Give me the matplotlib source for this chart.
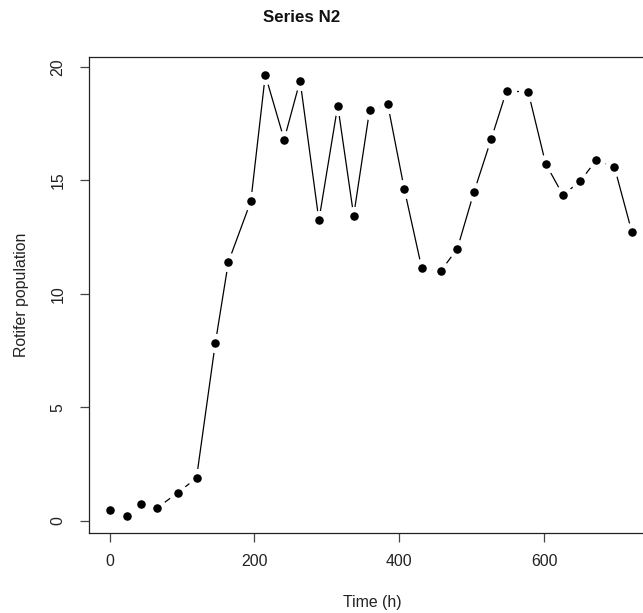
import matplotlib
matplotlib.use("Agg")
import matplotlib.pyplot as plt

time_h = [0, 24, 43, 66, 94, 120, 146, 164, 195, 215, 241, 263, 289, 315, 337,
          359, 384, 407, 431, 457, 480, 503, 527, 548, 578, 602, 626, 650, 672,
          697, 721]
population = [0.48, 0.22, 0.73, 0.57, 1.23, 1.88, 7.83, 11.40, 14.08, 19.65,
              16.80, 19.40, 13.25, 18.30, 13.45, 18.10, 18.36, 14.60, 11.13,
              11.00, 11.98, 14.48, 16.84, 18.94, 18.90, 15.74, 14.35, 14.98,
              15.89, 15.59, 12.74]
xticks = [0, 200, 400, 600]
yticks = [0, 5, 10, 15, 20]

plt.rcParams['font.family'] = ['Liberation Sans', 'DejaVu Sans']

W, H = 643, 613
fig = plt.figure(figsize=(W / 100, H / 100), dpi=100)
fig.patch.set_facecolor('white')
left, right, bottom, top = 88.7, 652.7, 533.3, 57.3
ax = fig.add_axes([left / W, 1 - bottom / H, (right - left) / W, (bottom - top) / H])

xr = max(time_h) - min(time_h)
yr = max(population) - min(population)
ax.set_xlim(min(time_h) - 0.04 * xr, max(time_h) + 0.04 * xr)
ax.set_ylim(min(population) - 0.04 * yr, max(population) + 0.04 * yr)

ax.plot(time_h, population, color='black', lw=0.9, zorder=2)
ax.plot(time_h, population, linestyle='none', marker='o', ms=10.0,
        markerfacecolor='black', markeredgecolor='white', mew=3.8, zorder=3)

for s in ['left', 'bottom', 'top', 'right']:
    ax.spines[s].set_linewidth(0.9)
    ax.spines[s].set_color('#222222')

ax.set_xticks(xticks)
ax.set_yticks(yticks)
ax.set_yticklabels([str(v) for v in yticks], rotation=90, va='center')
ax.tick_params(axis='both', length=6.8, width=0.9, color='#444444',
               labelsize=11.4, labelcolor='#222222', direction='out')
ax.tick_params(axis='x', pad=8)
ax.tick_params(axis='y', pad=10)

ax.set_xlabel('Time (h)', fontsize=11.4, color='#222222', va='center')
ax.xaxis.set_label_coords((372 - left) / (right - left), -(603 - bottom) / (bottom - top))
ax.set_ylabel('Rotifer population', fontsize=11.4, color='#222222', va='center')
ax.yaxis.set_label_coords(-(left - 21) / (right - left), 0.5)

fig.text(301.5 / W, 1 - 17.5 / H, 'Series N2', ha='center', va='center',
         fontsize=12.2, fontweight='bold', color='#111111')

fig.savefig('out.png', dpi=100, facecolor='white')
